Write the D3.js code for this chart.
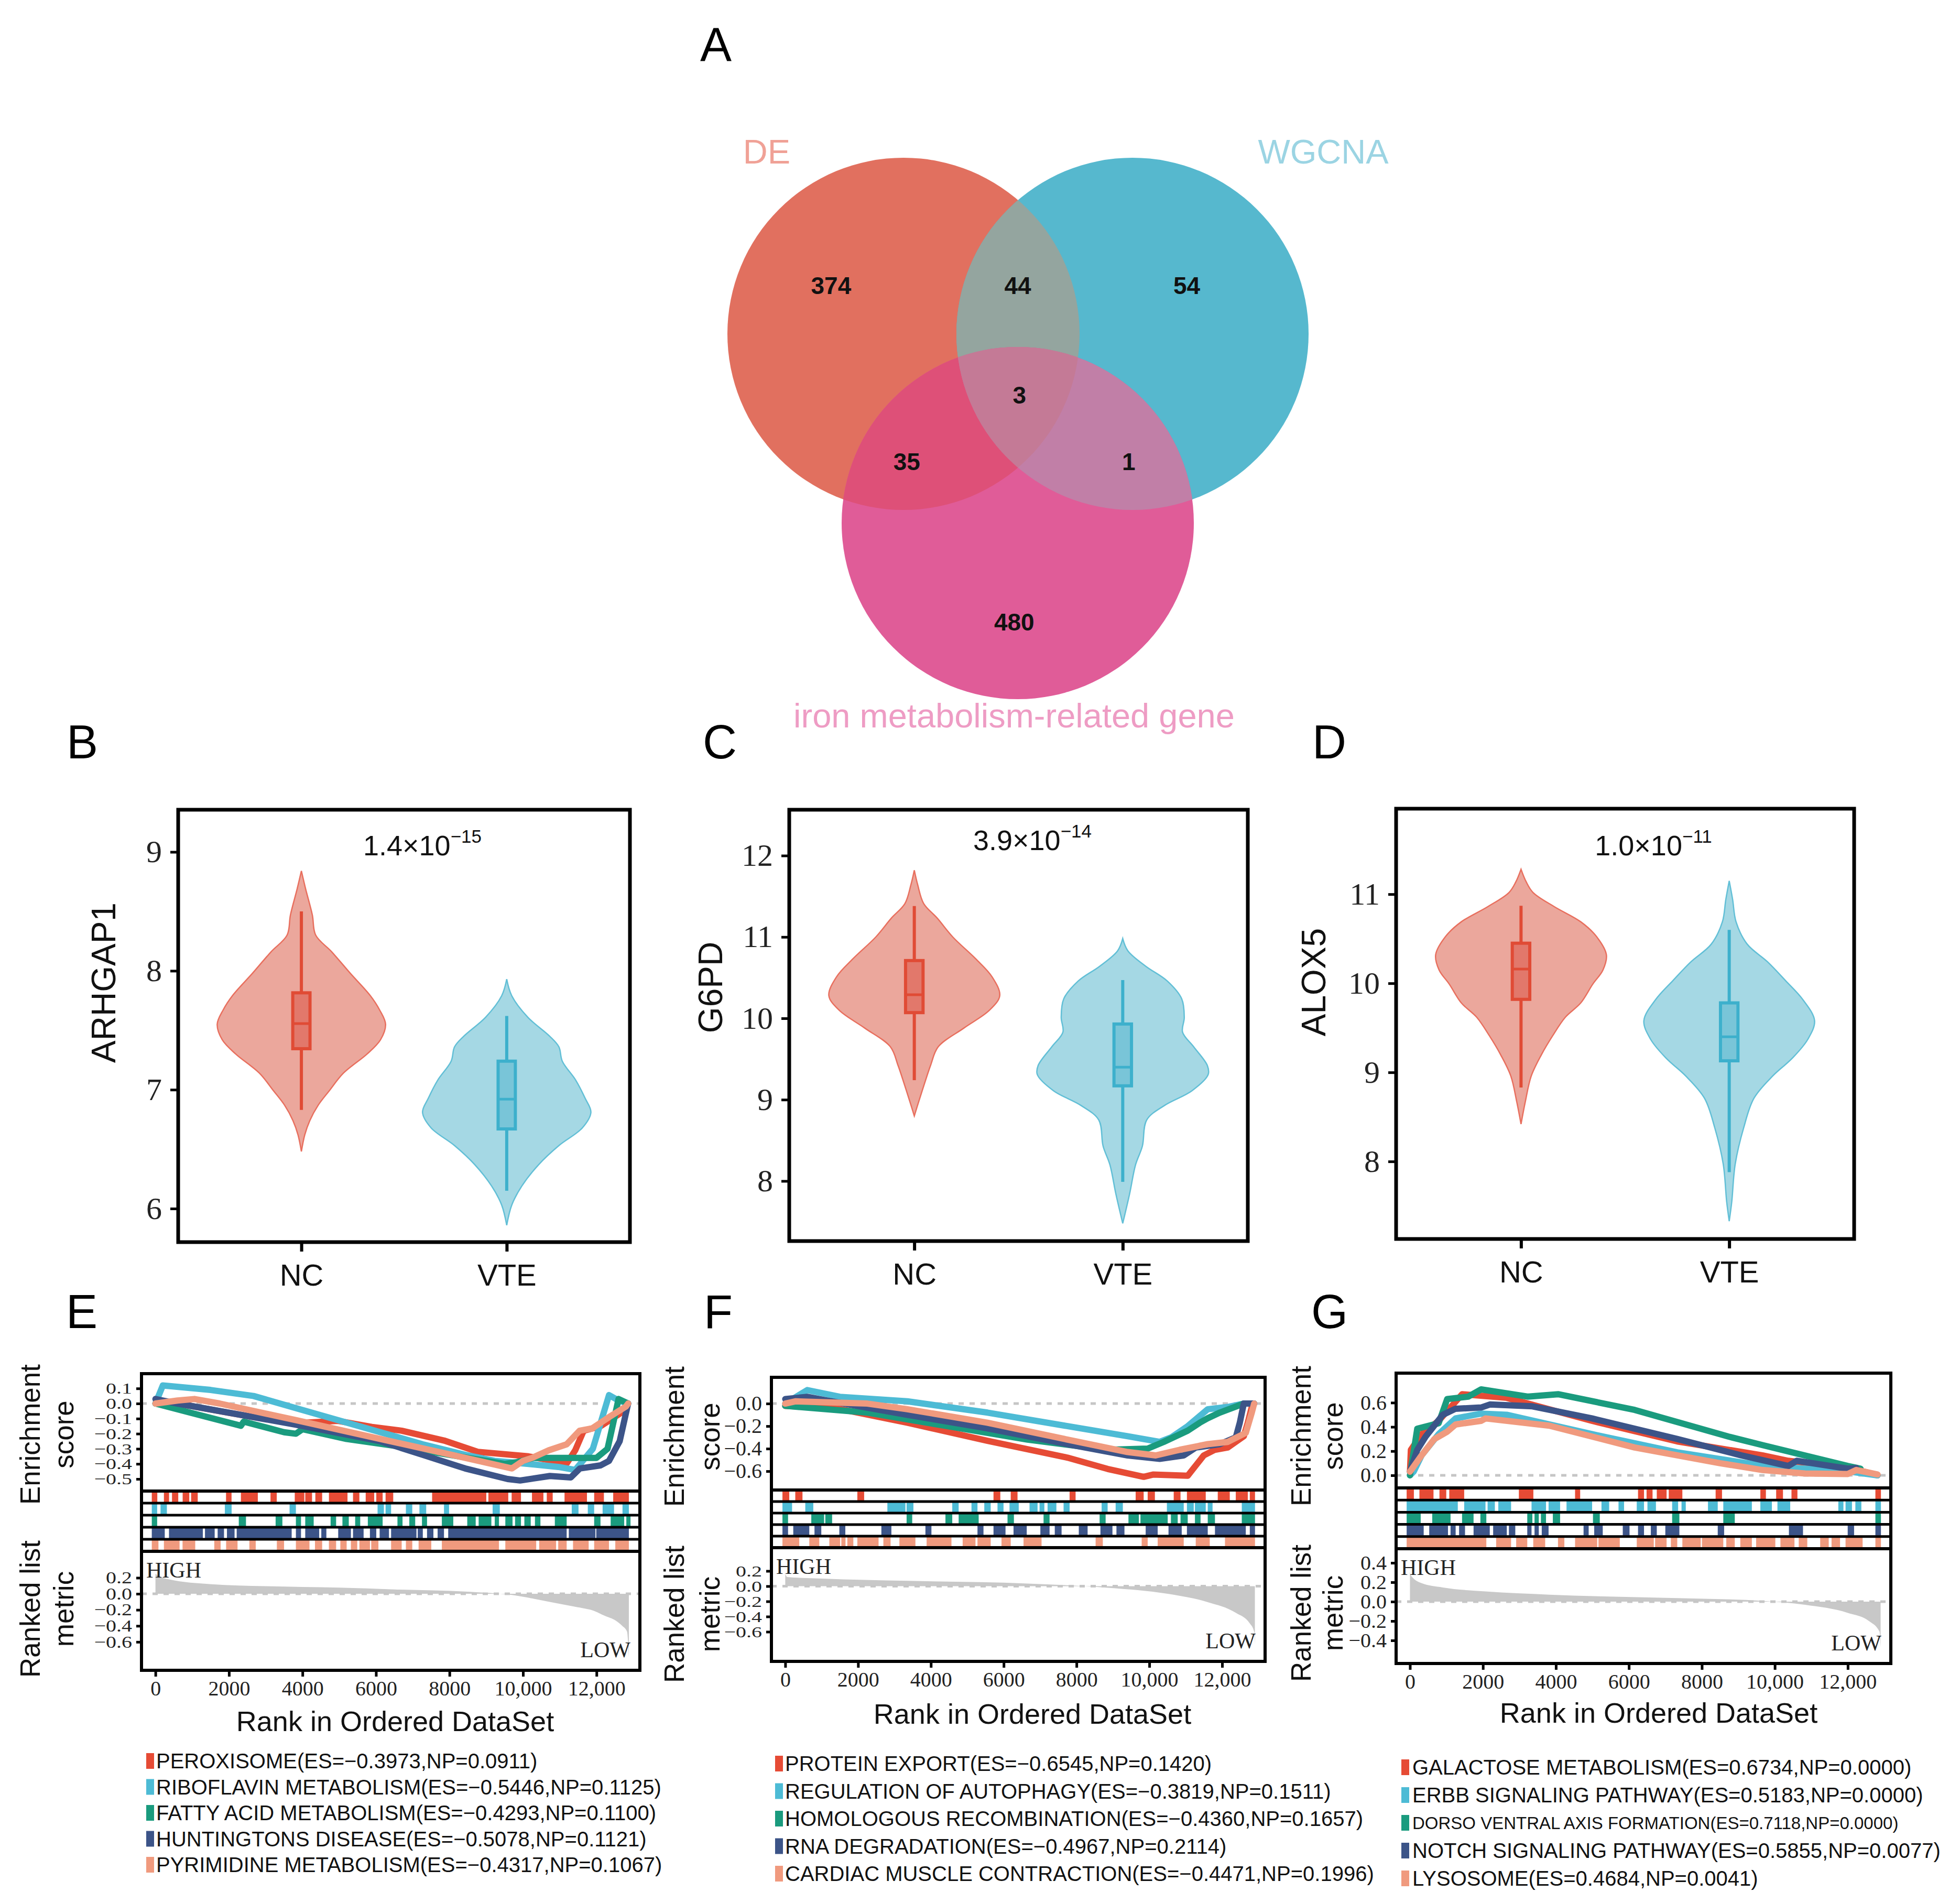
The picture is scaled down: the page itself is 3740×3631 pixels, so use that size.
<!DOCTYPE html>
<meta charset="utf-8">
<head>
<title>Venn, violin and GSEA panels</title>
<style>
body { margin: 0; background: #fff; }
svg { font-family: "Liberation Sans", Arial, sans-serif; }
</style>
</head>
<body>
<script src="https://d3js.org/d3.v7.min.js"></script>
<script>

// ---------- data ----------

var vennSets = ["DE", "WGCNA", "iron metabolism-related gene"];
// regions: DE only, DE&WGCNA, WGCNA only, all three, DE&iron, WGCNA&iron, iron only
var vennCounts = [374, 44, 54, 3, 35, 1, 480];

var vioGroups = ["NC", "VTE"];
var vioGenes = ["ARHGAP1", "G6PD", "ALOX5"];
var vioPBase = ["1.4", "3.9", "1.0"];
var vioPExp = ["\u221215", "\u221214", "\u221211"];
var vioTicks = [[6, 7, 8, 9], [8, 9, 10, 11, 12], [8, 9, 10, 11]];

// violin outlines, [expression, relative half width]
var arhgap1NC = [[8.84,0],[8.69,0.05],[8.47,0.13],[8.30,0.17],[8.16,0.36],[7.98,0.58],[7.79,0.82],[7.67,0.93],[7.55,1.0],[7.42,0.94],[7.30,0.78],[7.14,0.50],[6.99,0.33],[6.87,0.20],[6.74,0.10],[6.62,0.04],[6.48,0]];
var arhgap1VTE = [[7.93,0],[7.79,0.06],[7.61,0.25],[7.45,0.51],[7.36,0.62],[7.24,0.66],[7.08,0.82],[6.93,0.93],[6.81,1.0],[6.68,0.90],[6.53,0.62],[6.37,0.38],[6.19,0.18],[6.03,0.06],[5.86,0]];
var g6pdNC = [[11.82,0],[11.64,0.04],[11.41,0.11],[11.23,0.27],[11.0,0.45],[10.73,0.72],[10.51,0.91],[10.28,1.0],[10.10,0.88],[9.88,0.58],[9.65,0.28],[9.42,0.19],[9.20,0.12],[8.97,0.05],[8.80,0]];
var g6pdVTE = [[10.98,0],[10.83,0.06],[10.64,0.27],[10.46,0.52],[10.24,0.69],[10.01,0.72],[9.83,0.70],[9.65,0.83],[9.42,0.99],[9.31,1.0],[9.11,0.81],[8.93,0.49],[8.75,0.28],[8.43,0.23],[8.20,0.15],[7.84,0.08],[7.48,0]];
var alox5NC = [[11.28,0],[11.14,0.06],[11.02,0.14],[10.86,0.39],[10.69,0.70],[10.53,0.88],[10.32,1.0],[10.15,0.96],[9.99,0.84],[9.78,0.70],[9.62,0.52],[9.41,0.37],[9.20,0.24],[8.96,0.12],[8.67,0.05],[8.42,0]];
var alox5VTE = [[11.15,0],[10.94,0.04],[10.69,0.08],[10.44,0.21],[10.24,0.45],[10.03,0.66],[9.82,0.86],[9.58,1.0],[9.37,0.92],[9.16,0.74],[8.96,0.51],[8.71,0.29],[8.38,0.17],[7.97,0.07],[7.55,0.03],[7.33,0]];

// box stats: [low whisker, q1, median, q3, high whisker]
var arhgap1Box = [[6.83, 7.345, 7.556, 7.815, 8.50], [6.15, 6.67, 6.92, 7.24, 7.62]];
var g6pdBox = [[9.24, 10.07, 10.29, 10.71, 11.38], [7.99, 9.17, 9.40, 9.93, 10.47]];
var alox5Box = [[8.83, 9.82, 10.16, 10.45, 10.87], [7.88, 9.13, 9.40, 9.78, 10.60]];

// GSEA
var gseaTicks = [0, 2000, 4000, 6000, 8000, 10000, 12000];
var gseaTickLabels = ["0", "2000", "4000", "6000", "8000", "10,000", "12,000"];

var legE = ["PEROXISOME", "RIBOFLAVIN METABOLISM", "FATTY ACID METABOLISM", "HUNTINGTONS DISEASE", "PYRIMIDINE METABOLISM"];
var esValE = [-0.3973, -0.5446, -0.4293, -0.5078, -0.4317];
var npE = [0.0911, 0.1125, 0.1100, 0.1121, 0.1067];
var legF = ["PROTEIN EXPORT", "REGULATION OF AUTOPHAGY", "HOMOLOGOUS RECOMBINATION", "RNA DEGRADATION", "CARDIAC MUSCLE CONTRACTION"];
var esValF = [-0.6545, -0.3819, -0.4360, -0.4967, -0.4471];
var npF = [0.1420, 0.1511, 0.1657, 0.2114, 0.1996];
var legG = ["GALACTOSE METABOLISM", "ERBB SIGNALING PATHWAY", "DORSO VENTRAL AXIS FORMATION", "NOTCH SIGNALING PATHWAY", "LYSOSOME"];
var esValG = [0.6734, 0.5183, 0.7118, 0.5855, 0.4684];
var npG = [0.0000, 0.0000, 0.0000, 0.0077, 0.0041];

// running enrichment score, [rank, ES], one list per gene set
var esE = [
  [[0,0],[600,0],[1290,-0.03],[1980,-0.06],[2670,-0.09],[3820,-0.13],[4970,-0.115],[5890,-0.155],[6700,-0.18],[7850,-0.245],[8770,-0.32],[10150,-0.35],[11190,-0.397],[11420,-0.31],[11650,-0.18],[12110,-0.15],[12680,-0.06],[12860,0]],
  [[0,0],[200,0.12],[1500,0.09],[2670,0.05],[3820,-0.03],[4970,-0.11],[6120,-0.19],[7270,-0.27],[8425,-0.34],[9230,-0.38],[10150,-0.40],[10960,-0.42],[11420,-0.44],[11900,-0.3],[12340,0.056],[12600,0.02],[12860,0]],
  [[0,0],[940,-0.06],[2325,-0.147],[2400,-0.12],[3500,-0.19],[3821,-0.2],[4000,-0.17],[5200,-0.235],[6500,-0.28],[8000,-0.34],[9500,-0.4],[9800,-0.39],[10300,-0.36],[12000,-0.36],[12300,-0.3],[12600,0.03],[12860,0]],
  [[0,0.03],[600,0],[3820,-0.14],[6120,-0.25],[7270,-0.34],[8425,-0.43],[9580,-0.5],[9920,-0.51],[10730,-0.48],[11300,-0.49],[11550,-0.43],[12110,-0.41],[12340,-0.38],[12630,-0.25],[12860,0]],
  [[0,0],[600,0.02],[1060,0.03],[1750,0],[3820,-0.11],[6120,-0.235],[8425,-0.36],[9700,-0.43],[10000,-0.38],[10250,-0.36],[10700,-0.31],[11190,-0.27],[11540,-0.18],[11880,-0.165],[12340,-0.09],[12800,-0.02],[12860,0]]
];
var esF = [
  [[0,-0.02],[1375,-0.04],[3355,-0.17],[5555,-0.33],[7755,-0.48],[8855,-0.58],[9845,-0.65],[10100,-0.63],[11055,-0.64],[11275,-0.55],[11495,-0.46],[11800,-0.41],[12155,-0.39],[12595,-0.29],[12705,-0.17],[12815,-0.03],[12880,0]],
  [[0,0],[605,0.12],[1500,0.06],[3355,0.02],[5555,-0.08],[7755,-0.2],[9405,-0.29],[10285,-0.34],[10600,-0.3],[11055,-0.2],[11605,-0.05],[12155,-0.03],[12595,0],[12880,0]],
  [[0,-0.02],[2255,-0.08],[4455,-0.2],[6655,-0.32],[8855,-0.41],[9955,-0.40],[10395,-0.34],[11055,-0.24],[11385,-0.17],[11605,-0.13],[11935,-0.08],[12595,0],[12880,0]],
  [[0,0.04],[605,0.06],[1100,0.03],[3355,-0.1],[5555,-0.22],[7755,-0.36],[9405,-0.46],[10285,-0.49],[10945,-0.46],[11275,-0.39],[11935,-0.36],[12375,-0.3],[12485,-0.17],[12595,0],[12880,0]],
  [[0,0],[275,0.02],[2255,0],[3355,-0.05],[5555,-0.17],[7755,-0.32],[9405,-0.43],[10175,-0.46],[10835,-0.41],[11605,-0.36],[12155,-0.34],[12650,-0.26],[12815,-0.08],[12880,0]]
];
var esG = [
  [[0,0.03],[25,0.21],[320,0.34],[785,0.45],[1430,0.67],[2650,0.64],[4990,0.45],[7325,0.28],[9660,0.165],[10370,0.12],[12000,0.066],[12815,0]],
  [[0,0],[100,0.03],[320,0.165],[785,0.34],[1250,0.47],[1950,0.51],[2650,0.5],[4990,0.34],[7325,0.19],[9660,0.08],[10830,0.055],[12000,0.033],[12815,0]],
  [[0,0],[200,0.385],[785,0.43],[1020,0.63],[1600,0.65],[1950,0.71],[3240,0.65],[4060,0.67],[6160,0.54],[8730,0.32],[9660,0.25],[12000,0.077],[12350,0.055]],
  [[0,0.03],[200,0.21],[430,0.32],[900,0.5],[1250,0.55],[1950,0.56],[2190,0.585],[3355,0.57],[4990,0.47],[7325,0.3],[9080,0.165],[10370,0.077],[10600,0.12],[12000,0.055],[12235,0.06]],
  [[0,0.03],[320,0.165],[670,0.3],[1020,0.36],[1250,0.42],[1950,0.45],[2070,0.47],[3820,0.41],[6160,0.23],[8500,0.1],[9660,0.044],[10830,0.015],[12000,0.011],[12235,0.044],[12815,0.007]]
];

// hit positions, [first rank, last rank] runs, one row per gene set
var hitsE = [
  [[-100,50],[230,370],[450,620],[740,920],[970,1150],[1920,2070],[2325,2785],[3130,3300],[3790,4050],[4075,4260],[4350,4535],[4720,5225],[5375,5548],[5720,5951],[6008,6181],[6261,6469],[7527,9001],[9058,9599],[9691,9945],[10244,10555],[10647,10808],[11130,11740],[11936,12201],[12454,12880]],
  [[-100,46],[138,311],[1888,2072],[3649,3821],[6043,6215],[6261,6411],[6814,6987],[7182,7366],[7850,7988],[9174,9369],[11326,11510],[11763,11936],[12166,12477],[12707,12880]],
  [[-100,46],[2267,2463],[3269,3453],[3821,3960],[4075,4305],[4765,4915],[5087,5260],[5433,5571],[5778,6181],[6584,6722],[6906,7067],[7251,7389],[7792,8103],[8483,8713],[8793,9139],[9231,9346],[9519,9715],[9784,9945],[10037,10210],[10325,10474],[10866,11188],[11936,12108],[12385,12753],[12811,12880]],
  [[-100,253],[368,1289],[1347,1611],[1692,1865],[1945,2152],[2210,3706],[3821,3960],[4075,4454],[4512,4650],[4972,5318],[5375,5663],[5835,6008],[6100,6353],[6411,7101],[7136,7274],[7389,7562],[7677,7850],[7965,11188],[11246,11970],[11993,12880]],
  [[-100,81],[230,656],[737,1082],[1600,1773],[1922,2233],[2555,2728],[3303,3499],[3821,4190],[4340,4535],[4719,4915],[5030,5202],[5317,5490],[5548,5836],[5870,6066],[6411,6699],[6814,6987],[7159,7504],[7792,9346],[9519,10359],[10440,10900],[10958,11188],[11361,11787],[11936,12339],[12511,12880]]
];
var hitsF = [
  [[-77,110],[275,473],[1980,2167],[5720,5907],[6193,6380],[7810,7975],[9625,9845],[9955,10153],[10670,10857],[11033,11550],[11880,12210],[12375,12705],[12760,12903]],
  [[-77,187],[550,770],[2805,3300],[3333,3520],[4587,4763],[5115,5280],[5467,5643],[5830,5995],[6160,6413],[6710,6930],[6985,7117],[7205,7447],[7645,7810],[8690,8855],[9075,9273],[10483,10945],[11033,11220],[11253,11550],[11605,11737],[12540,12903]],
  [[-77,77],[715,1067],[1100,1287],[3333,3487],[4400,4587],[4763,5313],[6105,6281],[7095,7260],[8635,8800],[9427,9713],[9757,10505],[10593,10780],[10857,11055],[11253,11407],[11605,11803],[12540,12903]],
  [[-77,77],[220,660],[803,990],[1485,1650],[2640,2915],[3850,4015],[5280,5445],[5720,6050],[6270,6633],[7007,7260],[7403,7590],[8063,8305],[8657,8987],[9097,9317],[9900,10230],[10527,10890],[11033,11605],[11803,12650],[12760,12903]],
  [[-77,385],[660,935],[1210,1507],[1540,1650],[1705,1870],[1980,2563],[2695,2893],[3135,3575],[3883,4565],[4873,5225],[5280,5643],[5940,6193],[6545,7040],[8525,8723],[9790,9955],[10230,10945],[11275,11660],[12078,12903]]
];
var hitsG = [
  [[-91,107],[259,645],[808,995],[1077,1486],[2985,3382],[4525,4665],[6251,6415],[6485,6649],[6765,7034],[7093,7466],[8378,8553],[9604,9756],[10037,10224],[10457,10620],[12757,12909]],
  [[-91,1311],[1486,2070],[2128,2327],[2421,2771],[3332,3729],[3799,4115],[4291,4992],[5249,5459],[5716,5868],[6216,6415],[6509,6742],[7186,7350],[7443,7560],[8168,8436],[8588,9371],[9604,9920],[10072,10422],[11741,11881],[11939,12115],[12208,12372],[12757,12909]],
  [[-91,294],[610,1112],[1428,1743],[1930,2093],[3215,3355],[3414,3531],[3589,3729],[3916,4115],[5016,5203],[7186,7384],[8588,8903],[12757,12909]],
  [[-91,376],[528,1042],[1112,1252],[1346,1509],[1743,2187],[2280,2654],[2712,2887],[3215,3332],[3414,3531],[3612,3799],[4758,4898],[5050,5284],[5833,6018],[6251,6415],[6602,6765],[6999,7384],[8436,8611],[10387,10773],[11998,12173],[12757,12909]],
  [[-91,2093],[2362,2771],[2911,3215],[3379,3706],[4057,4232],[4525,5132],[5167,5751],[6216,6683],[6719,7034],[7151,7326],[7466,7969],[8004,8588],[8670,8903],[9054,9371],[9488,10014],[10154,10539],[10656,10890],[11244,11478],[11555,11788],[11939,12407],[12757,12909]]
];

// ranked list metric, [rank, metric]
var rankE = [[0,0.25],[100,0.22],[370,0.18],[1520,0.12],[3000,0.095],[5000,0.077],[6500,0.055],[8500,0.027],[9670,-0.013],[10800,-0.107],[11400,-0.16],[11970,-0.22],[12200,-0.27],[12540,-0.34],[12700,-0.4],[12830,-0.47],[12880,-0.79]];
var rankF = [[0,0.16],[55,0.12],[1000,0.1],[3355,0.07],[6655,0.035],[8855,-0.02],[10505,-0.1],[11605,-0.21],[12375,-0.35],[12760,-0.49],[12880,-0.6],[12900,-0.77]];
var rankG = [[0,0.31],[25,0.27],[320,0.19],[900,0.146],[2070,0.105],[3820,0.072],[7325,0.036],[9660,0.008],[10830,-0.033],[12000,-0.116],[12580,-0.2],[12870,-0.31],[12900,-0.47]];

// ---------- drawing ----------

var W = 3740, H = 3631;
var svg = d3.select("body").append("svg").attr("width", W).attr("height", H);
svg.append("rect").attr("width", W).attr("height", H).attr("fill", "#fff");
var defs = svg.append("defs");

var serif = '"Liberation Serif", "Times New Roman", serif';
var sans = '"Liberation Sans", Arial, sans-serif';

// panel letters
[["A",1336,116],["B",127,1447],["C",1341,1447],["D",2504,1447],["E",126,2534],["F",1343,2534],["G",2502,2534]]
  .forEach(function(l) {
    svg.append("text").attr("x", l[1]).attr("y", l[2]).attr("font-size", 90).attr("fill", "#000").text(l[0]);
  });

// ----- A: Venn -----
var vc = {x: 1942, y: 757}, vr = 336;
var vennCircles = [[-218, -120, "#E1705F"], [219, -120, "#56B8CE"], [0, 241, "#E05C98"]];
var venn = svg.append("g").attr("transform", "translate(" + vc.x + "," + vc.y + ")");

defs.append("clipPath").attr("id", "clip-de").append("circle")
  .attr("cx", vennCircles[0][0]).attr("cy", vennCircles[0][1]).attr("r", vr);
defs.append("clipPath").attr("id", "clip-wg").append("circle")
  .attr("cx", vennCircles[1][0]).attr("cy", vennCircles[1][1]).attr("r", vr);

function vcircle(sel, i, fill) {
  sel.append("circle").attr("cx", vennCircles[i][0]).attr("cy", vennCircles[i][1]).attr("r", vr).attr("fill", fill);
}
vennCircles.forEach(function(c, i) { vcircle(venn, i, c[2]); });
vcircle(venn.append("g").attr("clip-path", "url(#clip-de)"), 1, "#94A59F");
vcircle(venn.append("g").attr("clip-path", "url(#clip-de)"), 2, "#DE5078");
vcircle(venn.append("g").attr("clip-path", "url(#clip-wg)"), 2, "#C17FA7");
vcircle(venn.append("g").attr("clip-path", "url(#clip-de)").append("g").attr("clip-path", "url(#clip-wg)"), 2, "#C47A96");

// count label placement, in radii from the Venn centre
var vennSpots = [[-1.06,-0.63],[0,-0.63],[0.96,-0.63],[0.01,-0.01],[-0.63,0.37],[0.63,0.37],[-0.02,1.28]];
venn.selectAll("text.count").data(vennCounts).join("text")
  .attr("class", "count")
  .attr("x", (d, i) => vennSpots[i][0] * vr)
  .attr("y", (d, i) => vennSpots[i][1] * vr)
  .attr("text-anchor", "middle").attr("dominant-baseline", "central")
  .attr("font-size", 46).attr("font-weight", "bold").attr("fill", "#111")
  .text(d => d);

var vennLabelPos = [[1463, 312, "#F0A196"], [2525, 312, "#9BD4E3"], [1935, 1388, "#EE9CC4"]];
vennSets.forEach(function(s, i) {
  svg.append("text").attr("x", vennLabelPos[i][0]).attr("y", vennLabelPos[i][1])
    .attr("text-anchor", "middle").attr("font-size", 65).attr("fill", vennLabelPos[i][2]).text(s);
});

// ----- B, C, D: violins -----
var vioLayout = [
  {left: 340, right: 1202, top: 1545, bottom: 2370, domain: [5.718, 9.355], titleX: 198, titleY: 1875, pX: 806, pY: 1632,
   shapes: [arhgap1NC, arhgap1VTE], box: arhgap1Box},
  {left: 1506, right: 2381, top: 1545, bottom: 2368, domain: [7.262, 12.564], titleX: 1356, titleY: 1884, pX: 1970, pY: 1622,
   shapes: [g6pdNC, g6pdVTE], box: g6pdBox},
  {left: 2664, right: 3538, top: 1543, bottom: 2364, domain: [7.13, 11.96], titleX: 2507, titleY: 1874, pX: 3155, pY: 1632,
   shapes: [alox5NC, alox5VTE], box: alox5Box}
];
var vioFill = ["#EBA79C", "#A5D8E4"];
var vioLine = ["#E86F5E", "#62BFD6"];
var boxFill = ["#E2786B", "#79C5D8"];
var boxLine = ["#E04B35", "#3DB0CC"];

vioLayout.forEach(function(p, k) {
  var y = d3.scaleLinear().domain(p.domain).range([p.bottom, p.top]);
  var x = d3.scalePoint().domain(vioGroups).range([p.left, p.right]).padding(0.6);
  var hw = x.step() * 0.41, bw = x.step() * 0.084;
  var g = svg.append("g");

  vioGroups.forEach(function(grp, j) {
    var cx = x(grp);
    var area = d3.area()
      .y(d => y(d[0]))
      .x0(d => cx - d[1] * hw)
      .x1(d => cx + d[1] * hw)
      .curve(d3.curveCatmullRom);
    g.append("path").datum(p.shapes[j]).attr("d", area)
      .attr("fill", vioFill[j]).attr("stroke", vioLine[j]).attr("stroke-width", 2.5);
    var b = p.box[j];
    g.append("line").attr("x1", cx).attr("x2", cx).attr("y1", y(b[0])).attr("y2", y(b[4]))
      .attr("stroke", boxLine[j]).attr("stroke-width", 6);
    g.append("rect").attr("x", cx - bw / 2).attr("width", bw)
      .attr("y", y(b[3])).attr("height", y(b[1]) - y(b[3]))
      .attr("fill", boxFill[j]).attr("stroke", boxLine[j]).attr("stroke-width", 6);
    g.append("line").attr("x1", cx - bw / 2).attr("x2", cx + bw / 2).attr("y1", y(b[2])).attr("y2", y(b[2]))
      .attr("stroke", boxLine[j]).attr("stroke-width", 5);
  });

  var ya = g.append("g").attr("transform", "translate(" + p.left + ",0)")
    .call(d3.axisLeft(y).tickValues(vioTicks[k]).tickFormat(d3.format("d")).tickSize(15).tickPadding(16));
  ya.select(".domain").remove();
  ya.selectAll("line").attr("stroke", "#000").attr("stroke-width", 5);
  ya.selectAll("text").style("font-family", serif).attr("font-size", 60).attr("fill", "#222");

  var xa = g.append("g").attr("transform", "translate(0," + p.bottom + ")")
    .call(d3.axisBottom(x).tickSize(18).tickPadding(24));
  xa.select(".domain").remove();
  xa.selectAll("line").attr("stroke", "#000").attr("stroke-width", 6);
  xa.selectAll("text").style("font-family", sans).attr("font-size", 58).attr("fill", "#111");

  g.append("rect").attr("x", p.left).attr("y", p.top)
    .attr("width", p.right - p.left).attr("height", p.bottom - p.top)
    .attr("fill", "none").attr("stroke", "#000").attr("stroke-width", 7);

  g.append("text").attr("transform", "translate(" + p.titleX + "," + p.titleY + ") rotate(-90)")
    .attr("text-anchor", "middle").attr("dominant-baseline", "central")
    .attr("font-size", 64).attr("fill", "#111").text(vioGenes[k]);

  var pt = g.append("text").attr("x", p.pX).attr("y", p.pY).attr("text-anchor", "middle")
    .attr("font-size", 54).attr("fill", "#111");
  pt.append("tspan").text(vioPBase[k] + "\u00d710");
  pt.append("tspan").attr("dy", -24).attr("font-size", 35).text(vioPExp[k]);
});

// ----- E, F, G: GSEA -----
var gseaColors = ["#E64B35", "#4DBBD5", "#1A9B7E", "#3C5488", "#F09A7E"];
var rankDomain = [-380, 13180];

var gseaLayout = [
  {id: "E", left: 270, right: 1221, top: 2621, esBottom: 2845, hitBottom: 2960, bottom: 3187,
   esDomain: [-0.58, 0.198], esTicks: [0.1, 0, -0.1, -0.2, -0.3, -0.4, -0.5],
   rkDomain: [-0.954, 0.53], rkTicks: [0.2, 0, -0.2, -0.4, -0.6],
   curves: esE, hits: hitsE, metric: rankE,
   labX: [57, 121], labY: [2737, 3070], titleX: 754, titleY: 3303,
   legSq: 279, legTx: 298, legY0: 3360, legDy: 49.5, names: legE, es: esValE, np: npE, legSize: [40, 40, 40, 40, 40]},
  {id: "F", left: 1472, right: 2414, top: 2628, esBottom: 2843, hitBottom: 2953, bottom: 3170,
   esDomain: [-0.767, 0.233], esTicks: [0, -0.2, -0.4, -0.6],
   rkDomain: [-0.99, 0.507], rkTicks: [0.2, 0, -0.2, -0.4, -0.6],
   curves: esF, hits: hitsF, metric: rankF,
   labX: [1286, 1354], labY: [2741, 3080], titleX: 1970, titleY: 3289,
   legSq: 1479, legTx: 1498, legY0: 3365, legDy: 52.5, names: legF, es: esValF, np: npF, legSize: [40, 40, 40, 40, 40]},
  {id: "G", left: 2664, right: 3608, top: 2620, esBottom: 2839, hitBottom: 2955, bottom: 3174,
   esDomain: [-0.104, 0.844], esTicks: [0, 0.2, 0.4, 0.6],
   rkDomain: [-0.638, 0.546], rkTicks: [0.4, 0.2, 0, -0.2, -0.4],
   curves: esG, hits: hitsG, metric: rankG,
   labX: [2482, 2543], labY: [2740, 3078], titleX: 3165, titleY: 3287,
   legSq: 2674, legTx: 2695, legY0: 3372, legDy: 53, names: legG, es: esValG, np: npG, legSize: [40, 40, 33, 40, 40]}
];

gseaLayout.forEach(function(p) {
  var x = d3.scaleLinear().domain(rankDomain).range([p.left, p.right]).clamp(true);
  var yEs = d3.scaleLinear().domain(p.esDomain).range([p.esBottom, p.top]);
  var yRk = d3.scaleLinear().domain(p.rkDomain).range([p.bottom, p.hitBottom]);
  var g = svg.append("g");
  var clipId = "clip-es-" + p.id;
  defs.append("clipPath").attr("id", clipId).append("rect")
    .attr("x", p.left).attr("y", p.top).attr("width", p.right - p.left).attr("height", p.esBottom - p.top);

  // zero line and running ES curves
  g.append("line").attr("x1", p.left).attr("x2", p.right).attr("y1", yEs(0)).attr("y2", yEs(0))
    .attr("stroke", "#C6C6C6").attr("stroke-width", 5).attr("stroke-dasharray", "10,11");
  var line = d3.line().x(d => x(d[0])).y(d => yEs(d[1]));
  g.append("g").attr("clip-path", "url(#" + clipId + ")")
    .selectAll("path").data(p.curves).join("path")
    .attr("d", line).attr("fill", "none")
    .attr("stroke", (d, i) => gseaColors[i]).attr("stroke-width", 12)
    .attr("stroke-linejoin", "round").attr("stroke-linecap", "round");

  // hit stripes
  var rowH = (p.hitBottom - p.esBottom) / 5;
  p.hits.forEach(function(row, i) {
    g.append("g").selectAll("rect").data(row).join("rect")
      .attr("x", d => x(d[0]))
      .attr("width", d => Math.max(8, x(d[1]) - x(d[0])))
      .attr("y", p.esBottom + i * rowH + 2)
      .attr("height", rowH - 4)
      .attr("fill", gseaColors[i]);
  });
  d3.range(1, 5).forEach(function(i) {
    g.append("line").attr("x1", p.left).attr("x2", p.right)
      .attr("y1", p.esBottom + i * rowH).attr("y2", p.esBottom + i * rowH)
      .attr("stroke", "#000").attr("stroke-width", 5);
  });

  // ranked list metric
  var area = d3.area().x(d => x(d[0])).y0(yRk(0)).y1(d => yRk(d[1])).curve(d3.curveMonotoneX);
  g.append("path").datum(p.metric).attr("d", area).attr("fill", "#C8C8C8");
  g.append("line").attr("x1", p.left).attr("x2", p.right).attr("y1", yRk(0)).attr("y2", yRk(0))
    .attr("stroke", "#C6C6C6").attr("stroke-width", 5).attr("stroke-dasharray", "10,11");
  g.append("text").attr("x", p.left + 9).attr("y", p.hitBottom + 50)
    .style("font-family", serif).attr("font-size", 42).attr("fill", "#222").text("HIGH");
  g.append("text").attr("x", p.right - 18).attr("y", p.bottom - 25).attr("text-anchor", "end")
    .style("font-family", serif).attr("font-size", 42).attr("fill", "#222").text("LOW");

  // frame
  [p.esBottom, p.hitBottom].forEach(function(yy) {
    g.append("line").attr("x1", p.left).attr("x2", p.right).attr("y1", yy).attr("y2", yy)
      .attr("stroke", "#000").attr("stroke-width", 6);
  });
  g.append("rect").attr("x", p.left).attr("y", p.top)
    .attr("width", p.right - p.left).attr("height", p.bottom - p.top)
    .attr("fill", "none").attr("stroke", "#000").attr("stroke-width", 6);

  // axes; tick labels squeezed vertically where ticks sit close together, as in the figure
  function styleAxis(a, squeeze) {
    a.select(".domain").remove();
    a.selectAll("line").attr("stroke", "#000").attr("stroke-width", 5);
    a.selectAll("text").style("font-family", serif).attr("font-size", 40).attr("fill", "#222")
      .attr("transform", squeeze < 1 ? "scale(1," + squeeze + ")" : null);
  }
  function squeezeFor(scale, ticks) {
    var gap = Math.abs(scale(ticks[0]) - scale(ticks[1]));
    return Math.min(1, gap / 38);
  }
  styleAxis(g.append("g").attr("transform", "translate(" + p.left + ",0)")
    .call(d3.axisLeft(yEs).tickValues(p.esTicks).tickFormat(d3.format(".1f")).tickSize(10).tickPadding(8)),
    squeezeFor(yEs, p.esTicks));
  styleAxis(g.append("g").attr("transform", "translate(" + p.left + ",0)")
    .call(d3.axisLeft(yRk).tickValues(p.rkTicks).tickFormat(d3.format(".1f")).tickSize(10).tickPadding(8)),
    squeezeFor(yRk, p.rkTicks));
  styleAxis(g.append("g").attr("transform", "translate(0," + p.bottom + ")")
    .call(d3.axisBottom(x).tickValues(gseaTicks).tickFormat((d, i) => gseaTickLabels[i]).tickSize(12).tickPadding(8)), 1);

  // axis titles
  [["Enrichment", "score"], ["Ranked list", "metric"]].forEach(function(lines, r) {
    lines.forEach(function(t, li) {
      g.append("text").attr("transform", "translate(" + p.labX[li] + "," + p.labY[r] + ") rotate(-90)")
        .attr("text-anchor", "middle").attr("dominant-baseline", "central")
        .attr("font-size", 53).attr("fill", "#111").text(t);
    });
  });
  g.append("text").attr("x", p.titleX).attr("y", p.titleY).attr("text-anchor", "middle")
    .attr("font-size", 54).attr("fill", "#111").text("Rank in Ordered DataSet");

  // legend
  var f4 = d3.format(".4f");
  p.names.forEach(function(name, i) {
    var cy = p.legY0 + i * p.legDy;
    g.append("rect").attr("x", p.legSq).attr("y", cy - 15).attr("width", 15).attr("height", 30)
      .attr("fill", gseaColors[i]);
    g.append("text").attr("x", p.legTx).attr("y", cy).attr("dominant-baseline", "central")
      .attr("font-size", p.legSize[i]).attr("fill", "#111")
      .text(name + "(ES=" + f4(p.es[i]) + ",NP=" + f4(p.np[i]) + ")");
  });
});

</script>
</body>
